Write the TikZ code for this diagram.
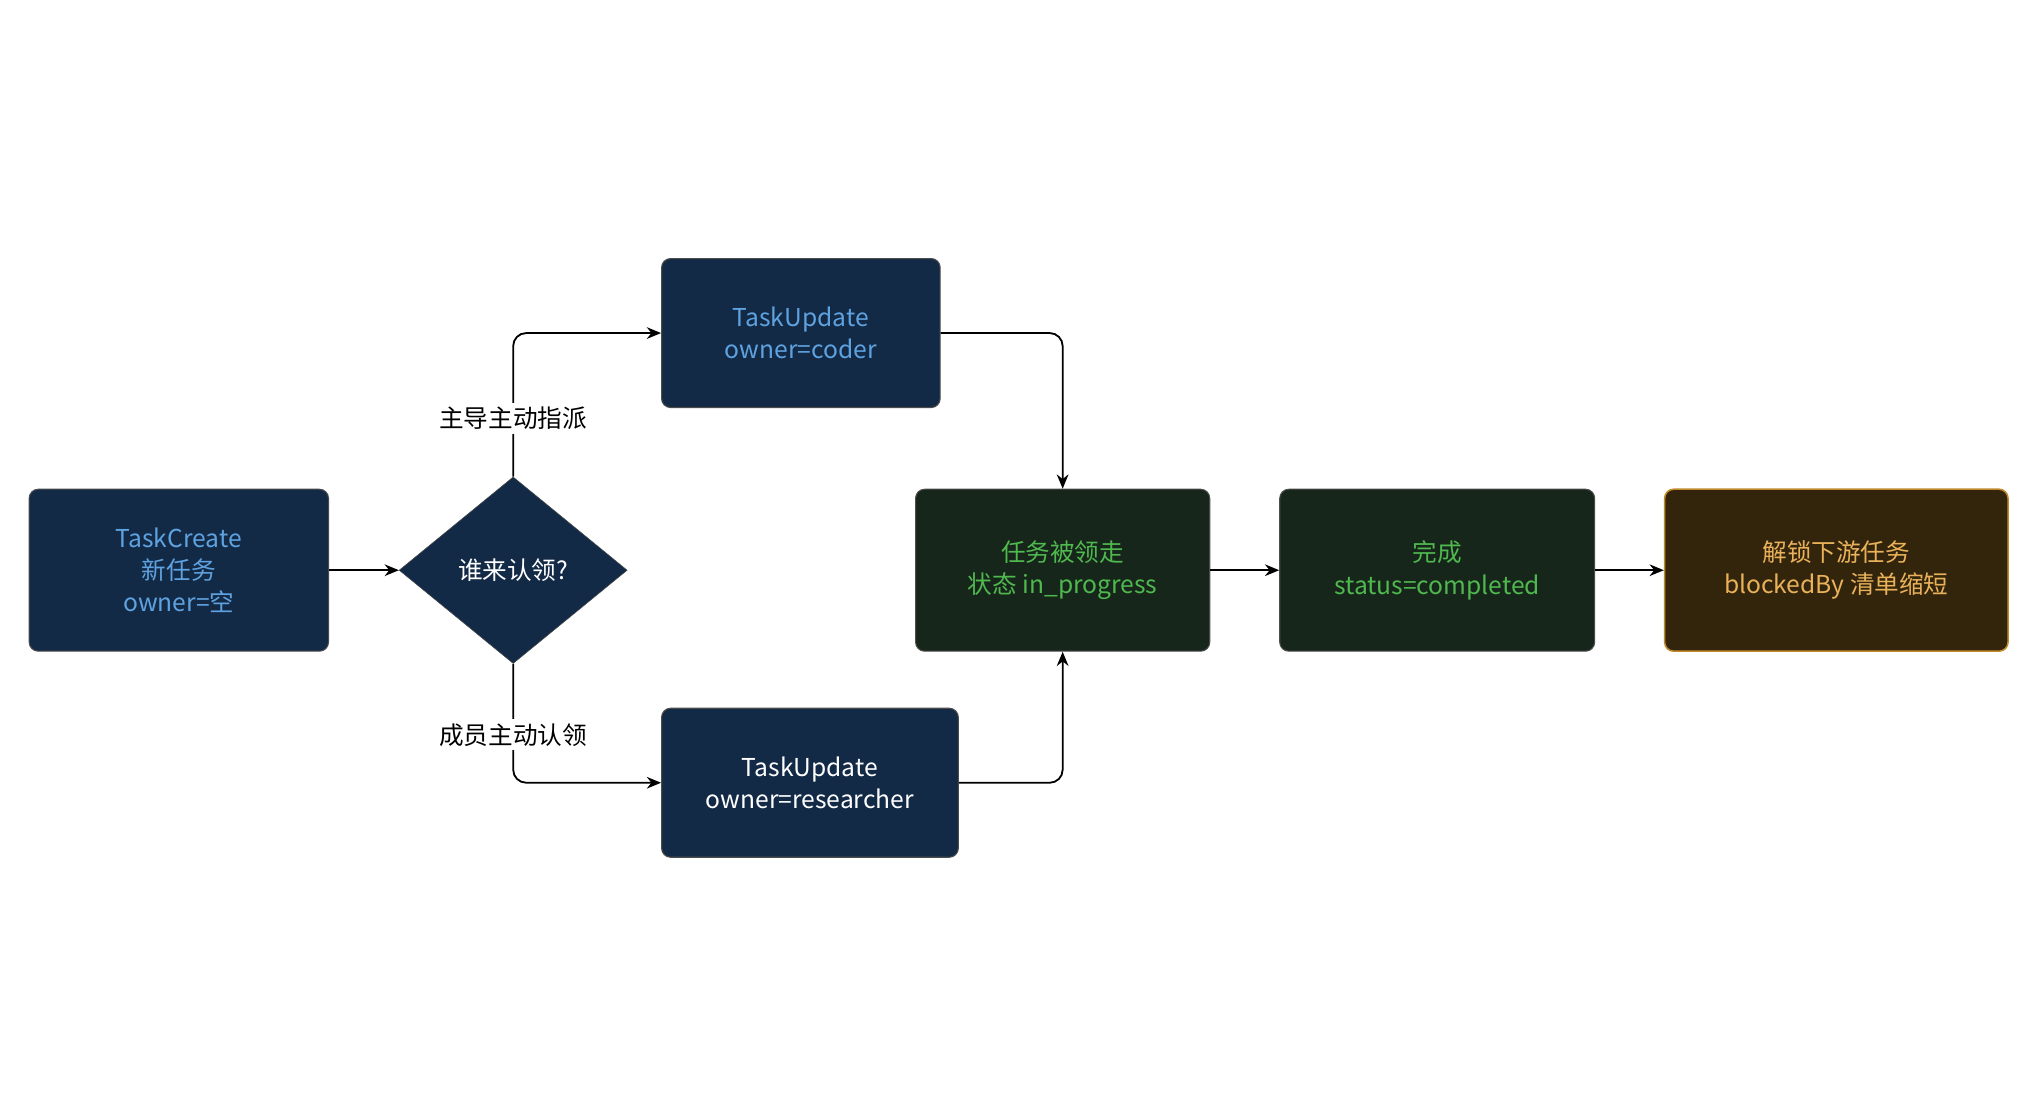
\documentclass[tikz,border=0pt]{standalone}
\usepackage{fontspec}
\setmainfont{Noto Sans CJK SC}
\usetikzlibrary{shapes.geometric,arrows.meta}
\definecolor{navy}{HTML}{132A47}
\definecolor{bluet}{HTML}{5FA2E0}
\definecolor{gfill}{HTML}{17261A}
\definecolor{gtext}{HTML}{4FB84F}
\definecolor{ofill}{HTML}{33240C}
\definecolor{oborder}{HTML}{C08A2C}
\definecolor{otext}{HTML}{E9B25A}
\tikzset{
  box/.style={draw=black!70, line width=0.8pt, rounded corners=7pt, align=center, font=\fontsize{19}{25}\selectfont, inner sep=0pt},
  navybox/.style={box, fill=navy},
  greenbox/.style={box, fill=gfill, text=gtext},
  orangebox/.style={box, fill=ofill, draw=oborder, text=otext, line width=1.2pt},
  conn/.style={-{Stealth[length=11pt,width=9pt]}, line width=1.4pt, rounded corners=10pt},
  lbl/.style={fill=white, font=\fontsize{19}{22}\selectfont, inner sep=3pt}
}
\begin{document}
\begin{tikzpicture}[x=1pt,y=-1pt]
\useasboundingbox[fill=white] (0,0) rectangle (1568,847);
\node[navybox, text=bluet, minimum width=231pt, minimum height=125pt] (create) at (138,440) {TaskCreate\\新任务\\owner=空};
\node[diamond, fill=navy, draw=black!70, text=white, minimum width=176pt, minimum height=144pt, inner sep=0pt, font=\fontsize{19}{22}\selectfont] (dia) at (396,440) {谁来认领?};
\node[navybox, text=bluet, minimum width=215pt, minimum height=115pt] (coder) at (618,257) {TaskUpdate\\owner=coder};
\node[navybox, text=white, minimum width=229pt, minimum height=115pt] (res) at (625,604) {TaskUpdate\\owner=researcher};
\node[greenbox, minimum width=227pt, minimum height=125pt] (ip) at (820,440) {任务被领走\\状态 in\_progress};
\node[greenbox, minimum width=243pt, minimum height=125pt] (done) at (1109,440) {完成\\status=completed};
\node[orangebox, minimum width=265pt, minimum height=125pt] (unlock) at (1417,440) {解锁下游任务\\blockedBy 清单缩短};
\draw[conn] (create.east) -- (dia.west);
\draw[conn] (dia.north) |- (coder.west);
\draw[conn] (dia.south) |- (res.west);
\draw[conn] (coder.east) -| (ip.north);
\draw[conn] (res.east) -| (ip.south);
\draw[conn] (ip.east) -- (done.west);
\draw[conn] (done.east) -- (unlock.west);
\node[lbl] (l1) at (396,323) {主导主动指派};
\node[lbl] (l2) at (396,567) {成员主动认领};
\end{tikzpicture}
\end{document}
